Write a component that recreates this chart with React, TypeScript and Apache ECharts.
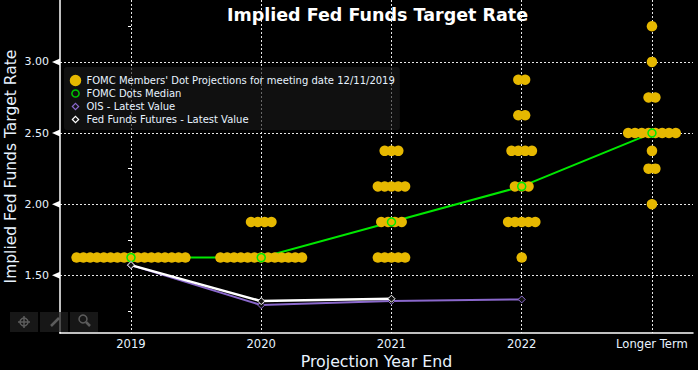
import React, { useEffect, useRef } from "react";
import * as echarts from "echarts";

const TITLE = "Implied Fed Funds Target Rate";
const categories = ["2019", "2020", "2021", "2022", "Longer Term"];
const yTicks = [1.5, 2.0, 2.5, 3.0];
const yMinorTicks = [1.25, 1.75, 2.25, 2.75, 3.25];

// [category index, rate, number of participants]
const dots2019 = [[0, 1.625, 17]];
const dots2020 = [[1, 1.625, 13], [1, 1.875, 4]];
const dots2021 = [[2, 1.625, 5], [2, 1.875, 4], [2, 2.125, 5], [2, 2.375, 3]];
const dots2022 = [[3, 1.625, 1], [3, 1.875, 5], [3, 2.125, 3], [3, 2.375, 4], [3, 2.625, 2], [3, 2.875, 2]];
const dotsLonger = [[4, 2.0, 1], [4, 2.25, 2], [4, 2.375, 1], [4, 2.5, 8], [4, 2.75, 2], [4, 3.0, 1], [4, 3.25, 1]];

const medianValues = [1.625, 1.625, 1.875, 2.125, 2.5];
const oisValues = [1.572, 1.291, 1.32, 1.331];
const futuresValues = [1.572, 1.319, 1.336];

const NAME_DOTS = "FOMC Members' Dot Projections for meeting date 12/11/2019";
const NAME_MEDIAN = "FOMC Dots Median";
const NAME_OIS = "OIS - Latest Value";
const NAME_FUTURES = "Fed Funds Futures - Latest Value";

const GOLD = "#e6b800";
const GREEN = "#00e800";
const PURPLE = "#8a68cc";
const WHITE = "#ffffff";
const TEXT = "#e8f3ff";
const FONT = "'DejaVu Sans', sans-serif";
const DOT_SPREAD = 0.0522;

const spread = (rows: number[][]) => {
  const out: number[][] = [];
  rows.forEach(([c, r, n]) => {
    for (let i = 0; i < n; i++) out.push([c + (i - (n - 1) / 2) * DOT_SPREAD, r]);
  });
  return out;
};
const indexed = (vals: number[]) => vals.map((v, i) => [i, v]);

// legend icons: the leading moves fix the icon's box so that sizes differ between rows
const box = "M0 0M16 16";
const circleIcon = (r: number) =>
  `path://${box}M${8 - r} 8A${r} ${r} 0 1 1 ${8 + r} 8A${r} ${r} 0 1 1 ${8 - r} 8Z`;
const diamondIcon = (r: number) =>
  `path://${box}M8 ${8 - r}L${8 + r} 8L8 ${8 + r}L${8 - r} 8Z`;

export default function App() {
  const ref = useRef<HTMLDivElement>(null);
  useEffect(() => {
    document.body.style.margin = "0";
    document.body.style.background = "#000";
    const chart = echarts.init(ref.current!, undefined, { renderer: "svg" });
    const X_MIN = -0.545;
    const X_MAX = 4.315;
    const Y_MIN = 1.095;
    const Y_MAX = 3.435;
    const dotted = { color: "#e8e8e8", type: [2, 2] as number[], width: 1 };
    const btn = (x: number) => ({
      type: "rect", left: x, top: 312, z: 100,
      shape: { width: 28, height: 20 },
      style: { fill: "rgba(32,32,32,0.72)" },
    });
    const icon = { stroke: "#5c5c5c", lineWidth: 1.5, fill: "none" };
    chart.setOption({
      animation: false,
      backgroundColor: "#000",
      title: {
        text: TITLE, left: 372.5, top: 1, textAlign: "center",
        textStyle: { color: "#fff", fontFamily: FONT, fontSize: 17.5, fontWeight: "bold" },
      },
      legend: {
        orient: "vertical", left: 64, top: 67, padding: [7, 5, 4, 5],
        width: 336, itemGap: 0, itemWidth: 14, itemHeight: 11.5,
        backgroundColor: "rgba(26,26,26,0.62)", borderRadius: 3, selectedMode: false,
        textStyle: { color: TEXT, fontFamily: FONT, fontSize: 10, lineHeight: 13, padding: [0, 0, 0, -1] },
        data: [
          { name: NAME_DOTS, icon: circleIcon(8), itemStyle: { color: GOLD, borderWidth: 0 } },
          { name: NAME_MEDIAN, icon: circleIcon(5), itemStyle: { color: "transparent", borderColor: "#00c800", borderWidth: 1.5 } },
          { name: NAME_OIS, icon: diamondIcon(4.4), itemStyle: { color: "transparent", borderColor: PURPLE, borderWidth: 1.2 } },
          { name: NAME_FUTURES, icon: diamondIcon(4.4), itemStyle: { color: "transparent", borderColor: WHITE, borderWidth: 1.2 } },
        ],
      },
      grid: { left: 60, right: 5, top: 0, bottom: 37, containLabel: false, outerBoundsMode: "none" },
      xAxis: {
        type: "value", min: X_MIN, max: X_MAX,
        name: "Projection Year End", nameLocation: "middle", nameGap: 20, nameMoveOverlap: false,
        nameTextStyle: { color: TEXT, fontFamily: FONT, fontSize: 15.8 },
        axisLine: { show: true, onZero: false, lineStyle: { color: "#fff", width: 1.5 } },
        axisTick: { show: false, customValues: [0, 1, 2, 3, 4] },
        axisLabel: {
          color: TEXT, fontFamily: FONT, fontSize: 11.6, margin: 5,
          customValues: [0, 1, 2, 3, 4], showMinLabel: true, showMaxLabel: true,
          formatter: (v: number) => categories[Math.round(v)] ?? "",
        },
        splitLine: { show: true, lineStyle: dotted },
      },
      yAxis: [
        {
          type: "value", min: Y_MIN, max: Y_MAX,
          name: "Implied Fed Funds Target Rate", nameLocation: "middle", nameGap: 41.5, nameMoveOverlap: false,
          nameTextStyle: { color: TEXT, fontFamily: FONT, fontSize: 15.5 },
          axisLine: { show: true, onZero: false, lineStyle: { color: "#fff", width: 1.5 } },
          axisTick: { show: false, customValues: yTicks },
          axisLabel: {
            color: TEXT, fontFamily: FONT, fontSize: 11, margin: 11,
            customValues: yTicks, formatter: (v: number) => v.toFixed(2),
          },
          splitLine: { show: true, lineStyle: dotted },
        },
        {
          type: "value", min: Y_MIN, max: Y_MAX, position: "left",
          axisLine: { show: false },
          axisTick: { show: true, length: 3, customValues: yMinorTicks, lineStyle: { color: "#fff", width: 1 } },
          axisLabel: { show: false, customValues: yMinorTicks },
          splitLine: { show: false },
        },
      ],
      series: [
        {
          name: NAME_MEDIAN, type: "line", z: 2, symbol: "none",
          data: indexed(medianValues), lineStyle: { color: GREEN, width: 2 }, itemStyle: { color: GREEN },
        },
        {
          name: NAME_DOTS, type: "scatter", z: 3, symbol: "circle", symbolSize: 10.5,
          data: spread([...dots2019, ...dots2020, ...dots2021, ...dots2022, ...dotsLonger]),
          itemStyle: { color: GOLD, opacity: 1 },
        },
        {
          name: NAME_MEDIAN, type: "scatter", z: 4, symbol: "circle", symbolSize: 8,
          data: indexed(medianValues),
          itemStyle: { color: "transparent", borderColor: GREEN, borderWidth: 1.5, opacity: 1 },
        },
        {
          name: NAME_OIS, type: "line", z: 5, symbol: "diamond", symbolSize: 7, showAllSymbol: true,
          data: indexed(oisValues), lineStyle: { color: PURPLE, width: 2 },
          itemStyle: { color: "#111", borderColor: PURPLE, borderWidth: 1 },
        },
        {
          name: NAME_FUTURES, type: "line", z: 6, symbol: "diamond", symbolSize: 7, showAllSymbol: true,
          data: indexed(futuresValues), lineStyle: { color: WHITE, width: 2.5 },
          itemStyle: { color: "#111", borderColor: WHITE, borderWidth: 1 },
        },
        {
          name: "major ticks", type: "scatter", z: 7, clip: false, silent: true,
          symbol: "triangle", symbolRotate: 90, symbolSize: [7, 8], symbolOffset: [-4, 0],
          data: yTicks.map((v) => [X_MIN, v]),
          itemStyle: { color: "#fff", opacity: 1 },
        },
      ],
      graphic: [
        btn(10), btn(40), btn(70),
        { type: "circle", z: 101, shape: { cx: 24, cy: 322, r: 4 }, style: icon },
        { type: "line", z: 101, shape: { x1: 24, y1: 316, x2: 24, y2: 328 }, style: icon },
        { type: "line", z: 101, shape: { x1: 18, y1: 322, x2: 30, y2: 322 }, style: icon },
        { type: "line", z: 101, shape: { x1: 51, y1: 326, x2: 59, y2: 318 }, style: { ...icon, lineWidth: 2.5 } },
        { type: "circle", z: 101, shape: { cx: 83, cy: 319, r: 4 }, style: icon },
        { type: "line", z: 101, shape: { x1: 86, y1: 322, x2: 90, y2: 326 }, style: { ...icon, lineWidth: 2.5 } },
      ],
    });
    return () => chart.dispose();
  }, []);
  return <div ref={ref} style={{ width: 698, height: 370 }} />;
}
